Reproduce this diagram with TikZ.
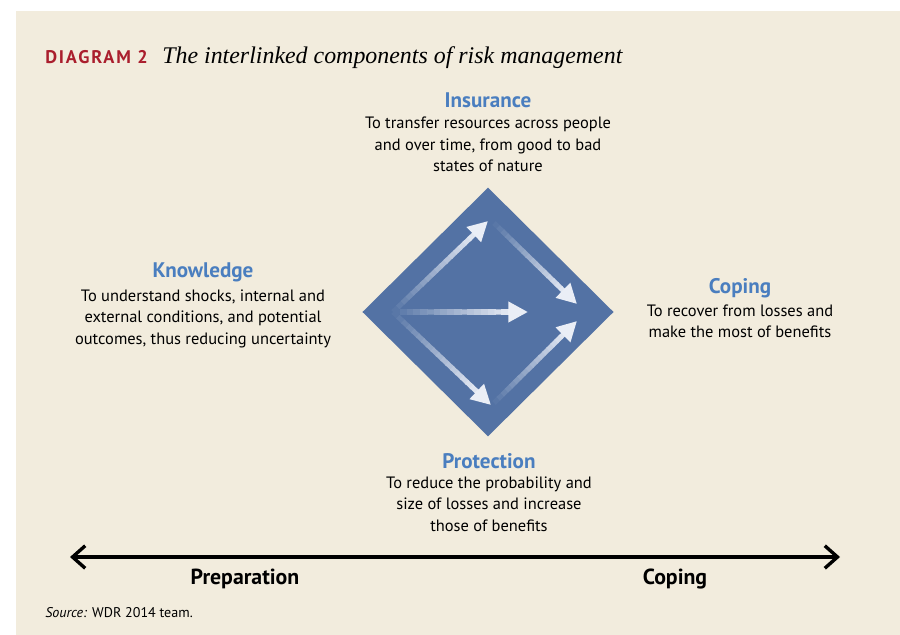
\documentclass[tikz,border=0pt]{standalone}
\usepackage{fontspec}
\setmainfont{PT Sans}
\newfontfamily\captfont{Liberation Serif}
\usetikzlibrary{positioning,arrows.meta,shapes.geometric,calc}
\definecolor{panelcream}{RGB}{242,236,221}
\definecolor{riskblue}{RGB}{83,114,164}
\definecolor{headblue}{RGB}{74,126,191}
\definecolor{diagred}{RGB}{170,30,45}
\definecolor{arrowwhite}{RGB}{234,238,246}

% shaft that runs from the diamond colour to white, then a head
\newcommand{\fadearrow}[2]{%
  \foreach \i in {0,...,17}{%
    \pgfmathsetmacro{\fa}{\i/20}%
    \pgfmathsetmacro{\fb}{(\i+1.2)/20}%
    \pgfmathsetmacro{\fc}{4+\i*5.6}%
    \draw[riskarrow,arrowwhite!\fc!riskblue] ($(#1)!\fa!(#2)$) -- ($(#1)!\fb!(#2)$);
  }%
  \draw[riskarrow,arrowwhite,-{Triangle[length=14pt,width=14pt]}] ($(#1)!0.9!(#2)$) -- (#2);
}

\begin{document}
\begin{tikzpicture}[
  x=0.025cm,y=-0.025cm,
  heading/.style={text=headblue,font=\fontsize{15}{17}\selectfont\bfseries,inner sep=1pt},
  blurb/.style={align=center,font=\fontsize{11.7}{15.2}\selectfont,inner sep=1pt},
  axislabel/.style={font=\fontsize{15.5}{17}\selectfont\bfseries},
  riskarrow/.style={line width=3.6pt}
]
\useasboundingbox (0,0) rectangle (900,635);
\fill[white] (0,0) rectangle (900,635);
\fill[panelcream] (16,11) rectangle (900,635);

% caption
\node[anchor=base west,text=diagred,inner sep=0,
      font=\fontsize{13}{15}\selectfont\bfseries\addfontfeature{LetterSpace=10}] (diag) at (45,64) {DIAGRAM 2};
\node[anchor=base west,inner sep=0,font=\captfont\fontsize{17}{20}\selectfont\itshape] (caption) at (162,64)
  {The interlinked components of risk management};

% diamond
\node[diamond,fill=riskblue,inner sep=0,
      minimum width=6.28cm,minimum height=6.22cm] (risk) at (488,312) {};

\coordinate (src) at (393,312);
\coordinate (toptip) at (488,221);
\coordinate (midtip) at (528,312);
\coordinate (bottip) at (491,405);
\coordinate (topstart) at (494,223);
\coordinate (botstart) at (494,403);
\coordinate (righttip) at (577,304);
\coordinate (righttip2) at (577,321);

\fadearrow{src}{toptip}
\fadearrow{src}{midtip}
\fadearrow{src}{bottip}
\fadearrow{topstart}{righttip}
\fadearrow{botstart}{righttip2}

% the four components
\node[heading] (insurance) at (488,100) {Insurance};
\node[blurb,below=4.5pt of insurance] (insurancetext)
  {To transfer resources across people\\and over time, from good to bad\\states of nature};

\node[heading] (knowledge) at (203,272) {Knowledge};
\node[blurb,below=3.5pt of knowledge] (knowledgetext)
  {To understand shocks, internal and\\external conditions, and potential\\outcomes, thus reducing uncertainty};

\node[heading] (coping) at (740,288) {Coping};
\node[blurb,below=2.5pt of coping] (copingtext)
  {To recover from losses and\\make the most of benefits};

\node[heading] (protection) at (489,461) {Protection};
\node[blurb,below=3.5pt of protection] (protectiontext)
  {To reduce the probability and\\size of losses and increase\\those of benefits};

% time axis
\coordinate (axisleft) at (70,557);
\coordinate (axisright) at (840,557);
\draw[line width=2.4pt,{Straight Barb[length=9pt,width=16pt]}-{Straight Barb[length=9pt,width=16pt]}] (axisleft) -- (axisright);
\node[axislabel] (prep) at (245,579) {Preparation};
\node[axislabel] (cope) at (675,579) {Coping};

\node[anchor=base west,inner sep=0,font=\fontsize{10}{12}\selectfont] (source) at (45,617)
  {\textit{Source:} WDR 2014 team.};
\end{tikzpicture}
\end{document}
